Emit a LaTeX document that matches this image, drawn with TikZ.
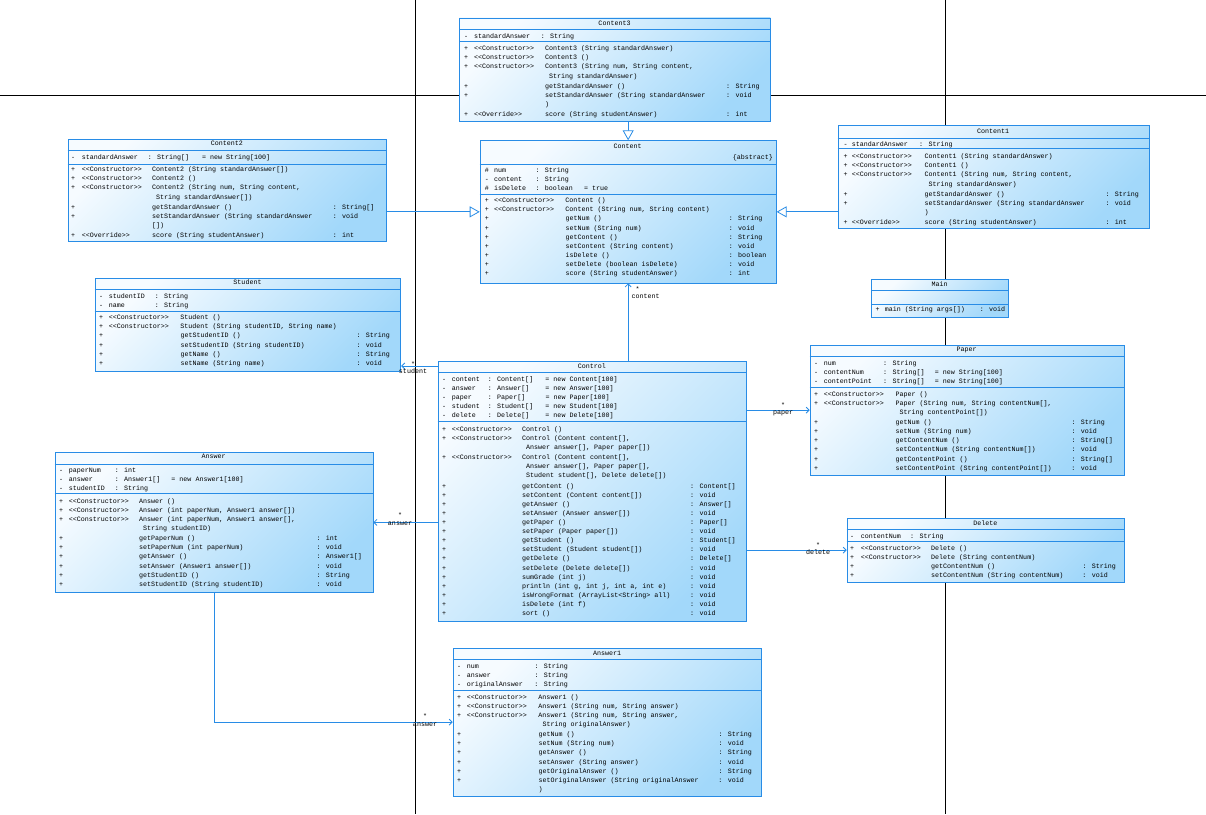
\documentclass[tikz,border=0pt]{standalone}
\usepackage{fontspec}
\newfontfamily\umlfont{Liberation Mono}
\usetikzlibrary{arrows.meta}
\definecolor{umlLine}{RGB}{40,140,230}
\definecolor{umlA}{RGB}{246,251,255}
\definecolor{umlB}{RGB}{162,216,250}
\newcommand\st[1]{<{}<#1>{}>}
\newcommand\rw[4]{\rule{0pt}{6pt}\makebox[\wa][l]{#1}\makebox[\wb][l]{#2}\makebox[\wc][l]{#3}#4}
\newcommand\compart[7]{\def\wa{#4pt}\def\wb{#5pt}\def\wc{#6pt}\node[block] (#1) at (#2,#3-3.8) {#7};}
\begin{document}
\begin{tikzpicture}[x=1pt,y=-1pt,
  uml/.style={draw=umlLine, line width=0.9pt, shade, top color=umlA, bottom color=umlB, shading angle=45, inner sep=0pt, anchor=north west},
  block/.style={font=\umlfont\fontsize{6.67}{9.1}\selectfont, align=left, anchor=north west, inner sep=0pt, text=black},
  ttl/.style={font=\umlfont\fontsize{6.67}{8}\selectfont, anchor=base, inner sep=0pt, text=black},
  lbl/.style={font=\umlfont\fontsize{6.67}{7.5}\selectfont, align=center, inner sep=0pt, text=black},
  sep/.style={draw=umlLine, line width=0.8pt},
  page/.style={draw=black, line width=0.8pt},
  gen/.style={draw=umlLine, line width=0.8pt, -{Triangle[open, length=10pt, width=11pt, fill=white]}},
  assoc/.style={draw=umlLine, line width=0.8pt, -{Straight Barb[length=3pt, width=6pt]}}]
\useasboundingbox (0,0) rectangle (1206,814);
\fill[white] (0,0) rectangle (1206,814);
% page break lines
\draw[page] (0,95) -- (1206,95);
\draw[page] (415,0) -- (415,814);
\draw[page] (945,0) -- (945,814);

% ---------- boxes ----------
\node[uml, minimum width=311pt, minimum height=103.5pt] (content3) at (459,17.5) {};
\node[uml, minimum width=318.3pt, minimum height=102.3pt] (content2) at (67.7,138.7) {};
\node[uml, minimum width=296pt, minimum height=142.2pt] (content) at (479.7,140.3) {};
\node[uml, minimum width=311pt, minimum height=103pt] (content1) at (837.7,125.3) {};
\node[uml, minimum width=305.6pt, minimum height=93pt] (student) at (94.7,277.7) {};
\node[uml, minimum width=136.7pt, minimum height=37.2pt] (main) at (871.3,279.3) {};
\node[uml, minimum width=308.3pt, minimum height=260.3pt] (control) at (437.7,360.7) {};
\node[uml, minimum width=313.8pt, minimum height=130pt] (paper) at (809.7,344.7) {};
\node[uml, minimum width=317.8pt, minimum height=139.4pt] (answer) at (54.7,452.3) {};
\node[uml, minimum width=277.3pt, minimum height=64pt] (delete) at (846.7,517.7) {};
\node[uml, minimum width=308.3pt, minimum height=148pt] (answer1) at (452.7,647.7) {};

% ---------- separators ----------
\draw[sep] (459,29.5) -- (770,29.5);  \draw[sep] (459,41) -- (770,41);
\draw[sep] (67.7,150.3) -- (386,150.3); \draw[sep] (67.7,164.3) -- (386,164.3);
\draw[sep] (479.7,164.7) -- (775.7,164.7); \draw[sep] (479.7,194.7) -- (775.7,194.7);
\draw[sep] (837.7,138) -- (1148.7,138); \draw[sep] (837.7,148.7) -- (1148.7,148.7);
\draw[sep] (94.7,289.7) -- (400.3,289.7); \draw[sep] (94.7,311.7) -- (400.3,311.7);
\draw[sep] (871.3,290.3) -- (1008,290.3); \draw[sep] (871.3,304.3) -- (1008,304.3);
\draw[sep] (437.7,372.3) -- (746,372.3); \draw[sep] (437.7,421.3) -- (746,421.3);
\draw[sep] (809.7,356.3) -- (1123.5,356.3); \draw[sep] (809.7,387) -- (1123.5,387);
\draw[sep] (54.7,464.3) -- (372.5,464.3); \draw[sep] (54.7,493.3) -- (372.5,493.3);
\draw[sep] (846.7,529) -- (1124,529); \draw[sep] (846.7,541) -- (1124,541);
\draw[sep] (452.7,659.3) -- (761,659.3); \draw[sep] (452.7,690) -- (761,690);

% ---------- titles ----------
\node[ttl] (t3) at (614.5,25.5) {Content3};
\node[ttl] (t2) at (226.8,145.5) {Content2};
\node[ttl] (tc) at (627.7,148.5) {Content};
\node[ttl, anchor=base east] (tabs) at (773,159.5) {\{abstract\}};
\node[ttl] (t1) at (993.2,133.5) {Content1};
\node[ttl] (ts) at (247.5,284.5) {Student};
\node[ttl] (tm) at (939.7,286.5) {Main};
\node[ttl] (tctl) at (591.8,368.5) {Control};
\node[ttl] (tp) at (966.6,351.5) {Paper};
\node[ttl] (ta) at (213.6,458.9) {Answer};
\node[ttl] (td) at (985.3,525.5) {Delete};
\node[ttl] (ta1) at (607,655.5) {Answer1};

% ---------- Content3 ----------
\compart{c3attr}{464}{35.7}{10}{66.7}{60}{\rw{-}{standardAnswer}{: String}{}}
\compart{c3ops}{464}{48.3}{10}{71}{181}{%
\rw{+}{\st{Constructor}}{Content3 (String standardAnswer)}{}\\
\rw{+}{\st{Constructor}}{Content3 ()}{}\\
\rw{+}{\st{Constructor}}{Content3 (String num, String content,}{}\\
\rw{}{}{\ String standardAnswer)}{}\\[1.2pt]
\rw{+}{}{getStandardAnswer ()}{: String}\\
\rw{+}{}{setStandardAnswer (String standardAnswer}{: void}\\
\rw{}{}{)}{}\\[1.2pt]
\rw{+}{\st{Override}}{score (String studentAnswer)}{: int}}

% ---------- Content2 ----------
\compart{c2attr}{71}{156.7}{10.7}{66}{54.3}{\rw{-}{standardAnswer}{: String[]}{= new String[100]}}
\compart{c2ops}{71}{169.3}{10.7}{70.3}{180.7}{%
\rw{+}{\st{Constructor}}{Content2 (String standardAnswer[])}{}\\
\rw{+}{\st{Constructor}}{Content2 ()}{}\\
\rw{+}{\st{Constructor}}{Content2 (String num, String content,}{}\\
\rw{}{}{\ String standardAnswer[])}{}\\[1.2pt]
\rw{+}{}{getStandardAnswer ()}{: String[]}\\
\rw{+}{}{setStandardAnswer (String standardAnswer}{: void}\\
\rw{}{}{[])}{}\\[1.2pt]
\rw{+}{\st{Override}}{score (String studentAnswer)}{: int}}

% ---------- Content ----------
\compart{cattr}{484.7}{169.7}{9.3}{41.3}{48.7}{%
\rw{\#}{num}{: String}{}\\
\rw{-}{content}{: String}{}\\
\rw{\#}{isDelete}{: boolean}{= true}}
\compart{cops}{484.7}{200.3}{9.3}{71.3}{163.4}{%
\rw{+}{\st{Constructor}}{Content ()}{}\\
\rw{+}{\st{Constructor}}{Content (String num, String content)}{}\\
\rw{+}{}{getNum ()}{: String}\\
\rw{+}{}{setNum (String num)}{: void}\\
\rw{+}{}{getContent ()}{: String}\\
\rw{+}{}{setContent (String content)}{: void}\\
\rw{+}{}{isDelete ()}{: boolean}\\
\rw{+}{}{setDelete (boolean isDelete)}{: void}\\
\rw{+}{}{score (String studentAnswer)}{: int}}

% ---------- Content1 ----------
\compart{c1attr}{843.3}{143.7}{8.4}{67.3}{60}{\rw{-}{standardAnswer}{: String}{}}
\compart{c1ops}{843.3}{156.3}{8.4}{72.6}{181}{%
\rw{+}{\st{Constructor}}{Content1 (String standardAnswer)}{}\\
\rw{+}{\st{Constructor}}{Content1 ()}{}\\
\rw{+}{\st{Constructor}}{Content1 (String num, String content,}{}\\
\rw{}{}{\ String standardAnswer)}{}\\[1.2pt]
\rw{+}{}{getStandardAnswer ()}{: String}\\
\rw{+}{}{setStandardAnswer (String standardAnswer}{: void}\\
\rw{}{}{)}{}\\[1.2pt]
\rw{+}{\st{Override}}{score (String studentAnswer)}{: int}}

% ---------- Student ----------
\compart{sattr}{99}{295.7}{9.7}{46}{60}{%
\rw{-}{studentID}{: String}{}\\
\rw{-}{name}{: String}{}}
\compart{sops}{99}{317.3}{9.7}{71.6}{176}{%
\rw{+}{\st{Constructor}}{Student ()}{}\\
\rw{+}{\st{Constructor}}{Student (String studentID, String name)}{}\\
\rw{+}{}{getStudentID ()}{: String}\\
\rw{+}{}{setStudentID (String studentID)}{: void}\\
\rw{+}{}{getName ()}{: String}\\
\rw{+}{}{setName (String name)}{: void}}

% ---------- Main ----------
\compart{mops}{875.3}{309.3}{9.4}{0}{95}{\rw{+}{}{main (String args[])}{: void}}

% ---------- Control ----------
\compart{ctlattr}{442}{378.7}{9.7}{36}{57.6}{%
\rw{-}{content}{: Content[]}{= new Content[100]}\\
\rw{-}{answer}{: Answer[]}{= new Answer[100]}\\
\rw{-}{paper}{: Paper[]}{= new Paper[100]}\\
\rw{-}{student}{: Student[]}{= new Student[100]}\\
\rw{-}{delete}{: Delete[]}{= new Delete[100]}}
\compart{ctlops}{442}{428.7}{9.7}{70.3}{168}{%
\rw{+}{\st{Constructor}}{Control ()}{}\\
\rw{+}{\st{Constructor}}{Control (Content content[],}{}\\
\rw{}{}{\ Answer answer[], Paper paper[])}{}\\[1.2pt]
\rw{+}{\st{Constructor}}{Control (Content content[],}{}\\
\rw{}{}{\ Answer answer[], Paper paper[],}{}\\
\rw{}{}{\ Student student[], Delete delete[])}{}\\[1.2pt]
\rw{+}{}{getContent ()}{: Content[]}\\
\rw{+}{}{setContent (Content content[])}{: void}\\
\rw{+}{}{getAnswer ()}{: Answer[]}\\
\rw{+}{}{setAnswer (Answer answer[])}{: void}\\
\rw{+}{}{getPaper ()}{: Paper[]}\\
\rw{+}{}{setPaper (Paper paper[])}{: void}\\
\rw{+}{}{getStudent ()}{: Student[]}\\
\rw{+}{}{setStudent (Student student[])}{: void}\\
\rw{+}{}{getDelete ()}{: Delete[]}\\
\rw{+}{}{setDelete (Delete delete[])}{: void}\\
\rw{+}{}{sumGrade (int j)}{: void}\\
\rw{+}{}{println (int g, int j, int a, int e)}{: void}\\
\rw{+}{}{isWrongFormat (ArrayList<String> all)}{: void}\\
\rw{+}{}{isDelete (int f)}{: void}\\
\rw{+}{}{sort ()}{: void}}

% ---------- Paper ----------
\compart{pattr}{814}{362.7}{9.7}{59.3}{51.7}{%
\rw{-}{num}{: String}{}\\
\rw{-}{contentNum}{: String[]}{= new String[100]}\\
\rw{-}{contentPoint}{: String[]}{= new String[100]}}
\compart{pops}{814}{393.7}{9.7}{71.6}{176}{%
\rw{+}{\st{Constructor}}{Paper ()}{}\\
\rw{+}{\st{Constructor}}{Paper (String num, String contentNum[],}{}\\
\rw{}{}{\ String contentPoint[])}{}\\[1.2pt]
\rw{+}{}{getNum ()}{: String}\\
\rw{+}{}{setNum (String num)}{: void}\\
\rw{+}{}{getContentNum ()}{: String[]}\\
\rw{+}{}{setContentNum (String contentNum[])}{: void}\\
\rw{+}{}{getContentPoint ()}{: String[]}\\
\rw{+}{}{setContentPoint (String contentPoint[])}{: void}}

% ---------- Answer ----------
\compart{aattr}{59}{470}{9.7}{46}{56.6}{%
\rw{-}{paperNum}{: int}{}\\
\rw{-}{answer}{: Answer1[]}{= new Answer1[100]}\\
\rw{-}{studentID}{: String}{}}
\compart{aops}{59}{500.7}{9.7}{70.3}{177.3}{%
\rw{+}{\st{Constructor}}{Answer ()}{}\\
\rw{+}{\st{Constructor}}{Answer (int paperNum, Answer1 answer[])}{}\\
\rw{+}{\st{Constructor}}{Answer (int paperNum, Answer1 answer[],}{}\\
\rw{}{}{\ String studentID)}{}\\[1.2pt]
\rw{+}{}{getPaperNum ()}{: int}\\
\rw{+}{}{setPaperNum (int paperNum)}{: void}\\
\rw{+}{}{getAnswer ()}{: Answer1[]}\\
\rw{+}{}{setAnswer (Answer1 answer[])}{: void}\\
\rw{+}{}{getStudentID ()}{: String}\\
\rw{+}{}{setStudentID (String studentID)}{: void}}

% ---------- Delete ----------
\compart{dattr}{850}{535.7}{10.7}{49.3}{60}{\rw{-}{contentNum}{: String}{}}
\compart{dops}{850}{547.7}{10.7}{70.3}{151.3}{%
\rw{+}{\st{Constructor}}{Delete ()}{}\\
\rw{+}{\st{Constructor}}{Delete (String contentNum)}{}\\
\rw{+}{}{getContentNum ()}{: String}\\
\rw{+}{}{setContentNum (String contentNum)}{: void}}

% ---------- Answer1 ----------
\compart{a1attr}{457}{665.7}{9.7}{67.6}{60}{%
\rw{-}{num}{: String}{}\\
\rw{-}{answer}{: String}{}\\
\rw{-}{originalAnswer}{: String}{}}
\compart{a1ops}{457}{696.7}{9.7}{71.6}{180}{%
\rw{+}{\st{Constructor}}{Answer1 ()}{}\\
\rw{+}{\st{Constructor}}{Answer1 (String num, String answer)}{}\\
\rw{+}{\st{Constructor}}{Answer1 (String num, String answer,}{}\\
\rw{}{}{\ String originalAnswer)}{}\\[1.2pt]
\rw{+}{}{getNum ()}{: String}\\
\rw{+}{}{setNum (String num)}{: void}\\
\rw{+}{}{getAnswer ()}{: String}\\
\rw{+}{}{setAnswer (String answer)}{: void}\\
\rw{+}{}{getOriginalAnswer ()}{: String}\\
\rw{+}{}{setOriginalAnswer (String originalAnswer}{: void}\\
\rw{}{}{)}{}}

% ---------- connectors ----------
\coordinate (ystu) at (0,366);
\draw[gen] (content3.south -| content.north) -- (content.north);
\draw[gen] (content2.east |- content.west) -- (content.west);
\draw[gen] (content1.west |- content.east) -- (content.east);
\draw[assoc] (control.north -| content.south) -- (content.south);
\draw[assoc] (control.west |- ystu) -- (student.east |- ystu);
\draw[assoc] (control.east |- paper.west) -- (paper.west);
\draw[assoc] (control.east |- delete.west) -- (delete.west);
\draw[assoc] (control.west |- answer.east) -- (answer.east);
\draw[assoc] (answer.south) |- (answer1.west);

% ---------- role labels ----------
\node[lbl, align=left, anchor=west] (lcontent) at (631.5,292.5) {\ *\\content};
\node[lbl] (lstudent) at (413,367.5) {*\\student};
\node[lbl] (lpaper) at (783,409.5) {*\\paper};
\node[lbl] (ldelete) at (818,548.5) {*\\delete};
\node[lbl] (lanswer) at (400,519) {*\\answer};
\node[lbl] (lanswer2) at (425,720) {*\\answer};
\end{tikzpicture}
\end{document}
